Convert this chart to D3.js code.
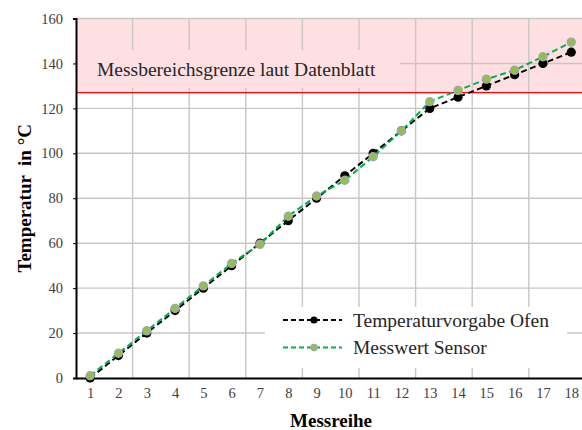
<!DOCTYPE html>
<html><head><meta charset="utf-8">
<script src="https://cdn.jsdelivr.net/npm/d3@7"></script>
<style>body{margin:0;background:#fff}svg{display:block}</style>
</head><body>
<svg id="c" width="582" height="430"></svg>
<script>
const categories = [1,2,3,4,5,6,7,8,9,10,11,12,13,14,15,16,17,18];
const ofen = [0,10,20,30,40,50,60,70,80,90,100,110,120,125,130,135,140,145];
const sensor = [1,11,21,31,41,51,59.5,72,81,88,98.5,110,123,128,133,137,143,149.5];
const yTicks = [0,20,40,60,80,100,120,140,160];
const limit = 127;
const seriesNames = ["Temperaturvorgabe Ofen","Messwert Sensor"];

const svg = d3.select("#c");
const x = d3.scaleLinear().domain([0.5,18.5]).range([76,585.4]);
const y = d3.scaleLinear().domain([0,160]).range([378,18.5]);
const serif = "'Liberation Serif','Times New Roman',serif";

// pink band
svg.append("rect").attr("x",x(0.5)).attr("y",y(160)).attr("width",x(18.5)-x(0.5)).attr("height",y(limit)-y(160)).attr("fill","#fee0e3");

// gridlines
const vg = d3.range(2.5,18.5,2);
svg.append("g").selectAll("line").data(vg).join("line")
  .attr("x1",d=>x(d)).attr("x2",d=>x(d)).attr("y1",y(160)).attr("y2",y(0))
  .attr("stroke","#cbc6c6").attr("stroke-width",1.4);
svg.append("g").selectAll("line").data(yTicks.filter(d=>d>0)).join("line")
  .attr("x1",x(0.5)).attr("x2",x(18.5)).attr("y1",d=>y(d)).attr("y2",d=>y(d))
  .attr("stroke","#cbc6c6").attr("stroke-width",1.4);

// annotation box
svg.append("rect").attr("x",x(0.5)).attr("y",50).attr("width",400-x(0.5)).attr("height",38).attr("fill","#fee0e3");
svg.append("text").attr("x",97).attr("y",76).attr("font-family",serif).attr("font-size",19.5).attr("fill","#262626")
  .text("Messbereichsgrenze laut Datenblatt");

// red limit line
svg.append("line").attr("x1",x(0.5)).attr("x2",x(18.5)).attr("y1",y(limit)).attr("y2",y(limit)).attr("stroke","#ff0000").attr("stroke-width",1.2);

// legend background
svg.append("rect").attr("x",265).attr("y",307).attr("width",302).attr("height",61).attr("fill","#fff");

// axes
const yAxis = d3.axisLeft(y).tickValues(yTicks).tickSize(3).tickPadding(10);
const gy = svg.append("g").attr("transform",`translate(${x(0.5)},0)`).call(yAxis);
gy.select(".domain").attr("stroke","#000").attr("stroke-width",2);
gy.selectAll(".tick line").attr("stroke","#000");
gy.selectAll("text").attr("font-family",serif).attr("font-size",14.5).attr("fill","#404040");

const xAxis = d3.axisBottom(x).tickValues(categories).tickSize(0).tickPadding(10).tickFormat(d3.format("d"));
const gx = svg.append("g").attr("transform",`translate(0,${y(0)})`).call(xAxis);
gx.select(".domain").attr("stroke","#000").attr("stroke-width",2.2);
gx.selectAll("text").attr("font-family",serif).attr("font-size",14.5).attr("fill","#404040");

// titles
svg.append("text").attr("transform",`translate(31,${y(80)}) rotate(-90)`).attr("text-anchor","middle")
  .attr("font-family",serif).attr("font-weight","bold").attr("font-size",19).attr("fill","#000")
  .text("Temperatur  in °C").attr("xml:space","preserve").style("white-space","pre");
svg.append("text").attr("x",331).attr("y",427).attr("text-anchor","middle")
  .attr("font-family",serif).attr("font-weight","bold").attr("font-size",19).attr("fill","#000")
  .text("Messreihe");

// series
const line = d3.line().x((d,i)=>x(categories[i])).y(d=>y(d));
svg.append("path").datum(ofen).attr("d",line).attr("fill","none").attr("stroke","#000").attr("stroke-width",2).attr("stroke-dasharray","6,3.5");
svg.append("g").selectAll("circle").data(ofen).join("circle")
  .attr("cx",(d,i)=>x(categories[i])).attr("cy",d=>y(d)).attr("r",4.6).attr("fill","#000");
svg.append("path").datum(sensor).attr("d",line).attr("fill","none").attr("stroke","#00b050").attr("stroke-width",2).attr("stroke-dasharray","6,3.5");
svg.append("g").selectAll("circle").data(sensor).join("circle")
  .attr("cx",(d,i)=>x(categories[i])).attr("cy",d=>y(d)).attr("r",4).attr("fill","#92c050").attr("stroke","#a6a6a6").attr("stroke-width",1.4);

// legend
const leg = svg.append("g");
const rows = [{name:seriesNames[0],stroke:"#000",fill:"#000",ms:"none",r:3.6,yy:320},
              {name:seriesNames[1],stroke:"#00b050",fill:"#92c050",ms:"#a6a6a6",r:3.4,yy:347.5}];
rows.forEach(r=>{
  leg.append("line").attr("x1",283).attr("x2",342).attr("y1",r.yy).attr("y2",r.yy).attr("stroke",r.stroke).attr("stroke-width",2).attr("stroke-dasharray","5,3");
  leg.append("circle").attr("cx",314).attr("cy",r.yy).attr("r",r.r).attr("fill",r.fill).attr("stroke",r.ms).attr("stroke-width",1);
  leg.append("text").attr("x",353).attr("y",r.yy+6.5).attr("font-family",serif).attr("font-size",19.5).attr("fill","#262626").text(r.name);
});
</script>
</body></html>
